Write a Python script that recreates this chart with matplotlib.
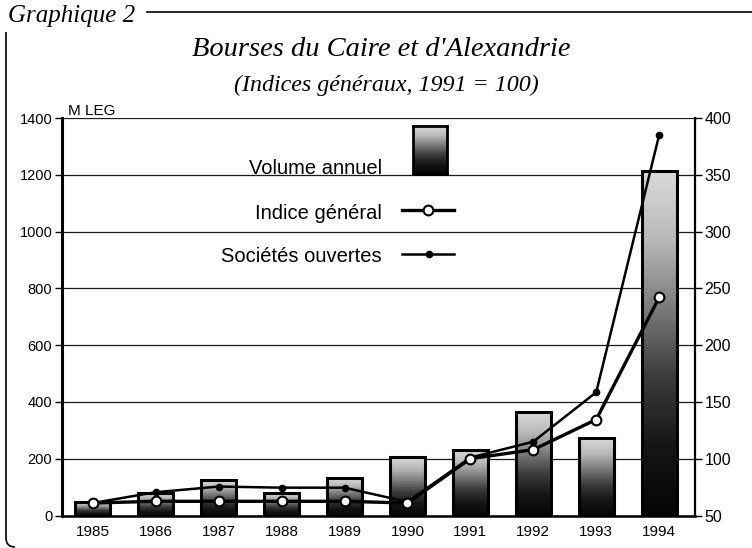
import numpy as np
import matplotlib
matplotlib.use("Agg")
import matplotlib.pyplot as plt
from matplotlib.colors import LinearSegmentedColormap
from matplotlib.path import Path
from matplotlib.patches import PathPatch
from matplotlib.lines import Line2D

# values
years = ["1985", "1986", "1987", "1988", "1989", "1990", "1991", "1992", "1993", "1994"]
volume = [48, 80, 126, 80, 131, 205, 232, 366, 272, 1215]        # M LEG, left axis
indice = [61, 62.5, 62.5, 62.5, 62.5, 61, 100, 108, 134.5, 242]  # right axis
societes = [61, 70.5, 75.5, 74.5, 74.5, 62, 101, 115, 158.5, 385]
left_ticks = [0, 200, 400, 600, 800, 1000, 1200, 1400]
right_ticks = [50, 100, 150, 200, 250, 300, 350, 400]

plt.rcParams["font.family"] = ["Liberation Sans", "DejaVu Sans"]
narrow = ["Liberation Sans Narrow", "Liberation Sans", "DejaVu Sans"]
serif = ["Liberation Serif", "DejaVu Serif"]

W, H = 752, 548
fig = plt.figure(figsize=(W / 100, H / 100), dpi=100)


def px_box(x0, y0, x1, y1):
    return [x0 / W, 1 - y1 / H, (x1 - x0) / W, (y1 - y0) / H]


shade = LinearSegmentedColormap.from_list(
    "shade", ["#050505", "#151515", "#3a3a3a", "#7a7a7a", "#b8b8b8", "#dadada"]
)
grad = np.linspace(0, 1, 256).reshape(-1, 1)

ax = fig.add_axes(px_box(62, 118, 695, 515.5))
x = np.arange(len(years))
bar_w = 0.56

for xi, v in zip(x, volume):
    ax.imshow(grad, extent=(xi - bar_w / 2, xi + bar_w / 2, 0, v), origin="lower",
              cmap=shade, aspect="auto", interpolation="bilinear", zorder=2)
ax.bar(x, volume, width=bar_w, fill=False, edgecolor="black", linewidth=2.2, zorder=3)

ax.set_xlim(-0.49, 9.57)
ax.set_ylim(0, 1400)
ax.set_xticks(x)
ax.set_xticklabels(years, family=narrow, fontsize=11)
ax.set_yticks(left_ticks)
ax.tick_params(axis="x", length=0, pad=7)
ax.tick_params(axis="y", direction="out", length=5, width=1, pad=2, labelsize=10.5)
ax.yaxis.grid(True, color="0.1", linewidth=0.9)
ax.set_axisbelow(True)
for side in ["top", "right"]:
    ax.spines[side].set_visible(False)
ax.spines["left"].set_linewidth(2.2)
ax.spines["bottom"].set_linewidth(1.8)
ax.text(0.0095, 1.0075, "M LEG", transform=ax.transAxes, va="baseline", ha="left", fontsize=11)

ax2 = ax.twinx()
ax2.set_ylim(50, 400)
ax2.set_yticks(right_ticks)
ax2.tick_params(axis="y", direction="out", length=5, width=1, pad=2, labelsize=11.5)
for side in ["top", "left", "bottom"]:
    ax2.spines[side].set_visible(False)
ax2.spines["right"].set_linewidth(1.6)

ax2.plot(x, societes, color="black", linewidth=1.8, marker="o", markersize=4.5, zorder=4)
ax2.plot(x, indice, color="black", linewidth=2.4, marker="o", markersize=7,
         markerfacecolor="white", markeredgecolor="black", markeredgewidth=1.5, zorder=5)

# hand-made legend, labels on the left of the keys
ax2.text(0.5055, 0.859, "Volume annuel", transform=ax2.transAxes, ha="right", va="baseline", fontsize=14.5)
ax2.text(0.5055, 0.746, "Indice général", transform=ax2.transAxes, ha="right", va="baseline", fontsize=14.5)
ax2.text(0.5055, 0.638, "Sociétés ouvertes", transform=ax2.transAxes, ha="right", va="baseline", fontsize=14.5)
ax2.add_line(Line2D([0.537, 0.619], [0.7686, 0.7686], transform=ax2.transAxes, color="black", linewidth=2.4))
ax2.add_line(Line2D([0.578], [0.7686], transform=ax2.transAxes, marker="o", markersize=7,
                    markerfacecolor="white", markeredgecolor="black", markeredgewidth=1.5))
ax2.add_line(Line2D([0.537, 0.619], [0.658, 0.658], transform=ax2.transAxes, color="black", linewidth=1.8))
ax2.add_line(Line2D([0.58], [0.658], transform=ax2.transAxes, marker="o", markersize=4.5, color="black"))

key = fig.add_axes(px_box(413, 126, 447, 174))
key.imshow(grad, origin="lower", cmap=shade, aspect="auto", interpolation="bilinear")
key.set_xticks([])
key.set_yticks([])
for sp in key.spines.values():
    sp.set_linewidth(2)

# page frame and titles
over = fig.add_axes([0, 0, 1, 1])
over.set_xlim(0, W)
over.set_ylim(H, 0)
over.axis("off")
over.patch.set_visible(False)
over.plot([147, W], [12, 12], color="black", linewidth=1.2)
corner = Path([(6, 32), (6, 538), (6, 547), (15, 547)],
              [Path.MOVETO, Path.LINETO, Path.CURVE3, Path.CURVE3])
over.add_patch(PathPatch(corner, fill=False, edgecolor="black", linewidth=1.2))
over.text(8, 22, "Graphique 2", family=serif, style="italic", fontsize=18, va="baseline", ha="left")
over.text(381, 56, "Bourses du Caire et d'Alexandrie", family=serif, style="italic",
          fontsize=20.5, va="baseline", ha="center")
over.text(386, 91, "(Indices généraux, 1991 = 100)", family=serif, style="italic",
          fontsize=17.3, va="baseline", ha="center")

fig.savefig("out.png", dpi=100)
